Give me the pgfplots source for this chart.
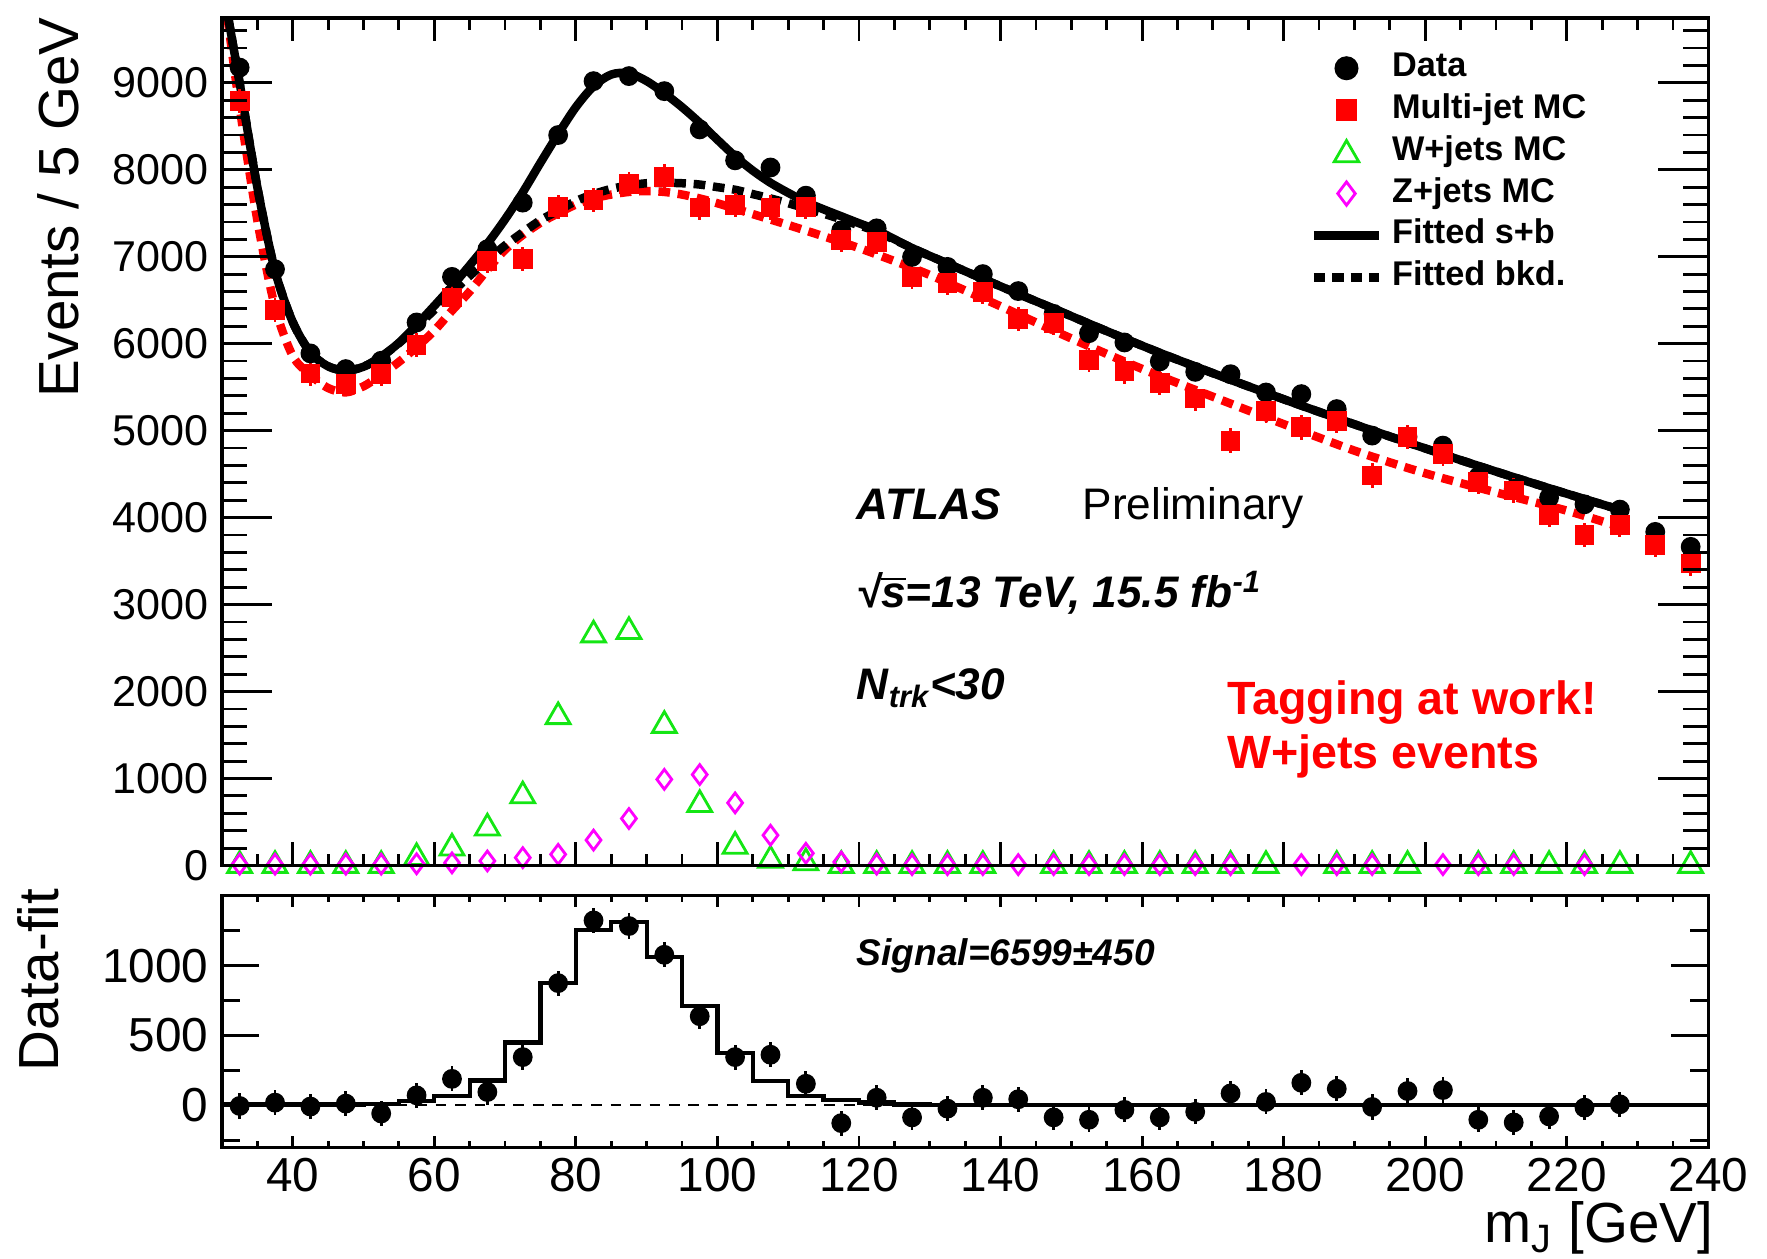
\documentclass[border=0pt]{standalone}
\usepackage{pgfplots}
\pgfplotsset{compat=1.18}
\usepackage{fontspec}
\setmainfont{Liberation Sans}
\usetikzlibrary{plotmarks}
\definecolor{rgreen}{RGB}{20,230,20}
\definecolor{rmag}{RGB}{255,0,255}
\definecolor{rred}{RGB}{255,0,0}
\pgfplotsset{
  panel/.style={scale only axis, width=420.6pt, xmin=30, xmax=240,
    axis line style={line width=0.9pt},
    every tick/.append style={black, line width=0.8pt},
    /pgf/number format/assume math mode=true,
    /pgf/number format/1000 sep={},
    scaled ticks=false,
    tick label style={font=\fontsize{13.5}{15}\selectfont},
    yticklabel style={inner sep=0pt, xshift=-3.7pt},
    xticklabel style={inner sep=0pt, yshift=-2.9pt},
  },
  topg/.style={panel, at={(0pt,79.7pt)}, anchor=south west, height=239.8pt, ymin=0, ymax=9745},
  botg/.style={panel, at={(0pt,0pt)}, anchor=south west, height=71.1pt, ymin=-300, ymax=1500},
  fitline/.style={line width=2.4pt, smooth, no marks, forget plot},
  dotpat/.style={dash pattern=on 3.3pt off 2.2pt},
}
\begin{document}
\begin{tikzpicture}
\useasboundingbox (-62.8pt,-31.6pt) rectangle (437.2pt,324.6pt);

% ---------------- top panel ----------------
\begin{axis}[topg, name=top,
  xtick={40,60,...,240}, minor xtick={30,35,...,240}, xticklabels={},
  ytick=\empty, major tick length=6.6pt, minor tick length=3.3pt,
  legend style={draw=none, fill=none, at={(0.7316,0.9603)}, anchor=north west,
    font=\bfseries\fontsize{9.7}{11}\selectfont, inner sep=0pt, outer sep=0pt,
    row sep=2.42pt, column sep=2.4pt,
    nodes={inner sep=0pt, text height=7.1pt, text depth=2.3pt}},
  legend cell align=left]

\addlegendimage{legend image code/.code={\path[draw=none,fill=none] (0pt,0pt) -- (18.5pt,0pt);
  \path[black, fill=black, draw=black] plot[only marks, mark=*, mark size=3.2pt] coordinates {(9.25pt,0pt)};}}
\addlegendentry{Data}
\addlegendimage{legend image code/.code={\path[draw=none,fill=none] (0pt,0pt) -- (18.5pt,0pt);
  \path[rred, fill=rred, draw=rred] plot[only marks, mark=square*, mark size=2.85pt] coordinates {(9.25pt,0pt)};}}
\addlegendentry{Multi-jet MC}
\addlegendimage{legend image code/.code={\path[draw=none,fill=none] (0pt,0pt) -- (18.5pt,0pt);
  \path[draw=rgreen, line width=0.8pt] plot[only marks, mark=triangle, mark size=4pt] coordinates {(9.25pt,-0.8pt)};}}
\addlegendentry{W+jets MC}
\addlegendimage{legend image code/.code={\path[draw=none,fill=none] (0pt,0pt) -- (18.5pt,0pt);
  \path[draw=rmag, line width=0.8pt] plot[only marks, mark=diamond, mark size=3.3pt] coordinates {(9.25pt,0pt)};}}
\addlegendentry{Z+jets MC}
\addlegendimage{legend image code/.code={\draw[black, line width=2.5pt] (0pt,0pt) -- (18.5pt,0pt);}}
\addlegendentry{Fitted s+b}
\addlegendimage{legend image code/.code={\draw[black, line width=2.5pt, dash pattern=on 3.3pt off 1.9pt] (0pt,0pt) -- (18.5pt,0pt);}}
\addlegendentry{Fitted bkd.}

% multi-jet MC fit (red dotted)
\addplot[fitline, rred, dotpat] coordinates {
(30.8,9745) (32.5,8720) (35,7420) (37.5,6420) (40,5860) (42.5,5640) (45,5490)
(47.5,5440) (50,5510) (52.5,5640) (55,5790) (57.5,5960) (60,6150) (62.5,6380)
(65,6600) (67.5,6850) (70,7080) (72.5,7250) (75,7390) (77.5,7500) (80,7600)
(82.5,7670) (85,7715) (87.5,7745) (90,7755) (92.5,7745) (95,7715) (97.5,7670)
(100,7615) (105,7490) (110,7365) (115,7235) (120,7100) (125,6950) (130,6790)
(140,6430) (150,6060) (160,5710) (170,5390) (180,5075) (190,4770) (200,4510)
(210,4290) (220,4080) (228,3880)};

% fitted background (black dotted)
\addplot[fitline, black, dotpat] coordinates {
(30.9,9745) (32.5,9000) (35,7800) (37.5,6840) (40,6250) (42.5,5900) (45,5740)
(47.5,5690) (50,5735) (52.5,5850) (55,6005) (57.5,6190) (60,6390) (62.5,6590)
(65,6780) (67.5,6960) (70,7130) (72.5,7280) (75,7420) (77.5,7530) (80,7640)
(82.5,7720) (85,7780) (87.5,7820) (90,7845) (92.5,7850) (95,7845) (97.5,7830)
(100,7800) (102.5,7770) (105,7720) (107.5,7670) (110,7615) (112.5,7555)
(115,7495) (117.5,7430) (120,7360) (122.5,7290) (127.5,7100) (132.5,6922)
(137.5,6746) (142.5,6573) (147.5,6403) (152.5,6230) (157.5,6060) (162.5,5895)
(167.5,5738) (172.5,5585) (177.5,5435) (182.5,5288) (187.5,5144) (192.5,5002)
(197.5,4864) (202.5,4728) (207.5,4595) (212.5,4465) (217.5,4338) (222.5,4213)
(227.5,4091) (228.5,4068)};

% fitted s+b (black solid)
\addplot[fitline, black] coordinates {
(30.9,9745) (32.5,9000) (35,7800) (37.5,6840) (40,6250) (42.5,5900) (45,5740)
(47.5,5690) (50,5735) (52.5,5850) (55,6010) (57.5,6215) (60,6435) (62.5,6660)
(65,6900) (67.5,7150) (70,7430) (72.5,7740) (75,8080) (77.5,8410) (80,8720)
(82.5,8960) (85,9095) (87.5,9110) (90,9020) (92.5,8880) (95,8720) (97.5,8540)
(100,8345) (102.5,8155) (105,7990) (107.5,7850) (110,7735) (112.5,7630)
(115,7545) (117.5,7465) (120,7385) (122.5,7305) (127.5,7100) (132.5,6922)
(137.5,6746) (142.5,6573) (147.5,6403) (152.5,6230) (157.5,6060) (162.5,5895)
(167.5,5738) (172.5,5585) (177.5,5435) (182.5,5288) (187.5,5144) (192.5,5002)
(197.5,4864) (202.5,4728) (207.5,4595) (212.5,4465) (217.5,4338) (222.5,4213)
(227.5,4091) (228.5,4068)};

% data
\addplot[forget plot, only marks, mark=*, mark size=2.6pt, black,
  error bars/.cd, y dir=both, y explicit, error mark=none,
  error bar style={line width=0.8pt}]
  table[x index=0, y index=1, y error index=2] {
32.5 9175 96
37.5 6856 83
42.5 5888 77
47.5 5708 76
52.5 5804 76
57.5 6244 79
62.5 6768 82
67.5 7086 84
72.5 7622 87
77.5 8399 92
82.5 9019 95
87.5 9077 95
92.5 8904 94
97.5 8464 92
102.5 8108 90
107.5 8026 90
112.5 7702 88
117.5 7303 85
122.5 7326 86
127.5 6998 84
132.5 6883 83
137.5 6800 82
142.5 6605 81
147.5 6343 80
152.5 6121 78
157.5 6014 78
162.5 5796 76
167.5 5676 75
172.5 5649 75
177.5 5439 74
182.5 5420 74
187.5 5248 72
192.5 4943 70
197.5 4930 70
202.5 4828 69
207.5 4470 67
212.5 4330 66
217.5 4230 65
222.5 4153 64
227.5 4092 64
232.5 3836 62
237.5 3664 61
};

% multi-jet MC
\addplot[forget plot, only marks, mark=square*, mark size=2.6pt, rred,
  error bars/.cd, y dir=both, y explicit, error mark=none,
  error bar style={line width=0.8pt}]
  table[x index=0, y index=1, y error index=2] {
32.5 8790 140
37.5 6386 140
42.5 5658 140
47.5 5536 140
52.5 5651 140
57.5 5988 140
62.5 6531 140
67.5 6952 140
72.5 6971 140
77.5 7572 140
82.5 7649 140
87.5 7833 140
92.5 7921 140
97.5 7565 140
102.5 7595 140
107.5 7565 140
112.5 7575 140
117.5 7189 140
122.5 7170 140
127.5 6769 140
132.5 6700 140
137.5 6597 140
142.5 6281 140
147.5 6236 140
152.5 5816 140
157.5 5682 140
162.5 5549 140
167.5 5370 140
172.5 4885 140
177.5 5229 140
182.5 5038 140
187.5 5115 140
192.5 4485 140
197.5 4924 140
202.5 4733 140
207.5 4408 140
212.5 4313 140
217.5 4027 140
222.5 3798 140
227.5 3912 140
232.5 3683 140
237.5 3473 140
};

% W+jets MC
\addplot[forget plot, only marks, mark=triangle, mark size=3.9pt, rgreen, line width=0.8pt]
  table {
32.5 0
37.5 0
42.5 0
47.5 0
52.5 0
57.5 90
62.5 200
67.5 430
72.5 800
77.5 1710
82.5 2650
87.5 2690
92.5 1610
97.5 700
102.5 220
107.5 60
112.5 30
117.5 0
122.5 0
127.5 0
132.5 0
137.5 0
147.5 0
152.5 0
157.5 0
162.5 0
167.5 0
172.5 0
177.5 0
187.5 0
192.5 0
197.5 0
207.5 0
212.5 0
217.5 0
222.5 0
227.5 0
237.5 0
};

% Z+jets MC
\addplot[forget plot, only marks, mark=diamond, mark size=2.8pt, rmag, line width=0.8pt]
  table {
32.5 15
37.5 15
42.5 15
47.5 15
52.5 15
57.5 20
62.5 30
67.5 52
72.5 90
77.5 128
82.5 292
87.5 540
92.5 990
97.5 1045
102.5 720
107.5 348
112.5 140
117.5 40
122.5 15
127.5 10
132.5 10
137.5 10
142.5 10
147.5 10
152.5 10
157.5 10
162.5 10
167.5 10
172.5 10
182.5 10
187.5 10
192.5 10
202.5 10
207.5 10
212.5 10
222.5 10
};

\node[anchor=base west, inner sep=0pt, font=\bfseries\itshape\fontsize{12.5}{14}\selectfont]
  at (axis cs:119.6,3976) {ATLAS};
\node[anchor=base west, inner sep=0pt, font=\fontsize{12.5}{14}\selectfont]
  at (axis cs:151.5,3976) {Preliminary};
\node[anchor=base west, inner sep=0pt, font=\bfseries\itshape\fontsize{12.5}{14}\selectfont]
  at (axis cs:119.6,2966) {√$\overline{\mbox{s}}$=13 TeV, 15.5 fb\textsuperscript{-1}};
\node[anchor=base west, inner sep=0pt, font=\bfseries\itshape\fontsize{12.5}{14}\selectfont]
  at (axis cs:119.6,1904) {N\textsubscript{trk}<30};
\node[anchor=base west, inner sep=0pt, text=rred, font=\bfseries\fontsize{13.2}{15}\selectfont]
  at (axis cs:171.9,1735) {Tagging at work!};
\node[anchor=base west, inner sep=0pt, text=rred, font=\bfseries\fontsize{13.2}{15}\selectfont]
  at (axis cs:171.9,1114) {W+jets events};
\end{axis}

% y ticks of top panel
\begin{axis}[topg, xtick=\empty,
  ytick={0,1000,...,9000}, minor ytick={0,200,...,9600},
  yticklabel style={font=\fontsize{12.2}{14}\selectfont},
  major tick length=14.3pt, minor tick length=7.2pt]
\end{axis}

% ---------------- bottom panel ----------------
\begin{axis}[botg, name=bot,
  xtick={40,60,...,240}, minor xtick={30,35,...,240},
  ytick=\empty, major tick length=3.1pt, minor tick length=1.7pt]
\addplot[forget plot, black, line width=0.6pt, dash pattern=on 3pt off 2.5pt] coordinates {(30,0) (240,0)};
\addplot[forget plot, black, line width=1.2pt, const plot, no marks] coordinates {
(30,5) (35,5) (40,5) (45,5) (50,8) (55,30) (60,66) (65,177) (70,449) (75,875)
(80,1253) (85,1314) (90,1064) (95,709) (100,374) (105,173) (110,66) (115,38)
(120,19) (125,6) (130,2) (135,0) (240,0)};
\addplot[forget plot, only marks, mark=*, mark size=2.6pt, black,
  error bars/.cd, y dir=both, y explicit, error mark=none,
  error bar style={line width=0.8pt}]
  table[x index=0, y index=1, y error index=2] {
32.5 -5 90
37.5 19 90
42.5 -9 90
47.5 12 90
52.5 -59 90
57.5 71 90
62.5 189 90
67.5 95 90
72.5 345 90
77.5 875 90
82.5 1324 90
87.5 1284 90
92.5 1078 90
97.5 638 90
102.5 345 90
107.5 362 90
112.5 154 90
117.5 -128 90
122.5 54 90
127.5 -87 90
132.5 -24 90
137.5 54 90
142.5 43 90
147.5 -87 90
152.5 -104 90
157.5 -33 90
162.5 -87 90
167.5 -47 90
172.5 85 90
177.5 24 90
182.5 161 90
187.5 118 90
192.5 -12 90
197.5 102 90
202.5 109 90
207.5 -104 90
212.5 -123 90
217.5 -80 90
222.5 -17 90
227.5 7 90
};
\node[anchor=base west, inner sep=0pt, font=\bfseries\itshape\fontsize{10.5}{12}\selectfont]
  at (axis cs:119.6,1000) {Signal=6599±450};
\end{axis}

% y ticks of bottom panel
\begin{axis}[botg, xtick=\empty,
  ytick={0,500,1000}, minor ytick={-250,250,750,1250},
  major tick length=10.5pt, minor tick length=5.2pt]
\end{axis}

% axis titles
\node[rotate=90, anchor=base east, inner sep=0pt, font=\fontsize{16}{18}\selectfont]
  at ([xshift=-40.5pt,yshift=0.3pt]top.north west) {Events / 5 GeV};
\node[rotate=90, anchor=base east, inner sep=0pt, font=\fontsize{16}{18}\selectfont]
  at ([xshift=-46.2pt,yshift=2.2pt]bot.north west) {Data-fit};
\node[anchor=base east, inner sep=0pt, font=\fontsize{16}{18}\selectfont]
  at ([xshift=1.6pt,yshift=-27.1pt]bot.south east) {m\textsubscript{J} [GeV]};
\end{tikzpicture}
\end{document}
